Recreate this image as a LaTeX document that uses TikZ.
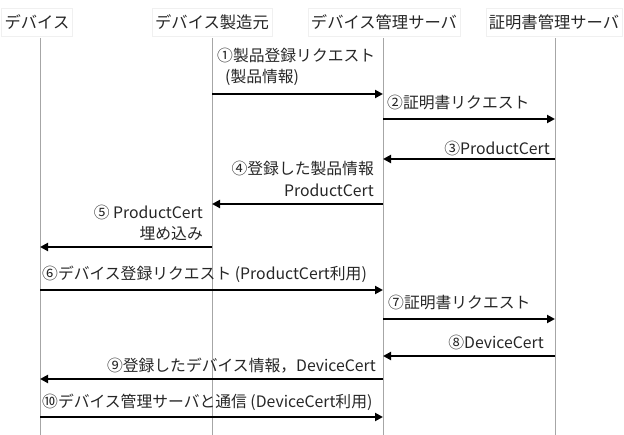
\documentclass[tikz,border=0pt]{standalone}
\usepackage{fontspec}
\setmainfont{Noto Sans CJK JP}
\usetikzlibrary{arrows.meta}
\definecolor{txt}{HTML}{262626}
\definecolor{life}{HTML}{A6A6A6}
\tikzset{
  hdr/.style={draw=black!6, inner sep=3pt, minimum height=28pt, text=txt, font=\fontsize{16.3}{18}\selectfont},
  lifeline/.style={draw=life, line width=0.9pt},
  msg/.style={draw=black, line width=2pt, -{Triangle[length=8pt,width=8pt]}},
  lblL/.style={anchor=west, inner sep=0pt, text=txt, align=left, font=\fontsize{15.8}{21.5}\selectfont},
  lblR/.style={anchor=east, inner sep=0pt, text=txt, align=right, font=\fontsize{15.8}{21.5}\selectfont},
}
\begin{document}
\begin{tikzpicture}[x=1pt,y=-1pt]
\useasboundingbox (0,0) rectangle (624,435);
% headers
\node[hdr] (dev) at (37,22) {デバイス};
\node[hdr] (mfr) at (212,22) {デバイス製造元};
\node[hdr] (srv) at (384,22) {デバイス管理サーバ};
\node[hdr] (crt) at (554,22) {証明書管理サーバ};
% lifeline ends
\coordinate (devT) at (40,38);  \coordinate (devB) at (40,435);
\coordinate (mfrT) at (212,38); \coordinate (mfrB) at (212,435);
\coordinate (srvT) at (383,38); \coordinate (srvB) at (383,435);
\coordinate (crtT) at (555,38); \coordinate (crtB) at (555,435);
\draw[lifeline] (devT) -- (devB);
\draw[lifeline] (mfrT) -- (mfrB);
\draw[lifeline] (srvT) -- (srvB);
\draw[lifeline] (crtT) -- (crtB);
% message endpoints
\coordinate (a1) at (212,94);  \coordinate (b1) at (383,94);
\coordinate (a2) at (383,119); \coordinate (b2) at (555,119);
\coordinate (a3) at (555,159); \coordinate (b3) at (383,159);
\coordinate (a4) at (383,204); \coordinate (b4) at (212,204);
\coordinate (a5) at (212,247); \coordinate (b5) at (40,247);
\coordinate (a6) at (40,290);  \coordinate (b6) at (383,290);
\coordinate (a7) at (383,319); \coordinate (b7) at (555,319);
\coordinate (a8) at (555,356); \coordinate (b8) at (383,356);
\coordinate (a9) at (383,379); \coordinate (b9) at (40,379);
\coordinate (a10) at (40,417); \coordinate (b10) at (383,417);
\foreach \i in {1,...,10} \draw[msg] (a\i) -- (b\i);
% labels
\node[lblL] (l1) at (217,67) {①製品登録リクエスト\\\hspace{8pt}(製品情報)};
\node[lblL] (l2) at (387,103) {②証明書リクエスト};
\node[lblR] (l3) at (550,148) {③ProductCert};
\node[lblR] (l4) at (374,179) {④登録した製品情報\\ProductCert};
\node[lblR] (l5) at (203,223) {⑤ ProductCert\\埋め込み};
\node[lblL] (l6) at (42,274) {⑥デバイス登録リクエスト (ProductCert利用)};
\node[lblL] (l7) at (388,303) {⑦証明書リクエスト};
\node[lblR] (l8) at (544,342) {⑧DeviceCert};
\node[lblR] (l9) at (376,366) {⑨登録したデバイス情報，DeviceCert};
\node[lblL] (l10) at (42,402) {⑩デバイス管理サーバと通信 (DeviceCert利用)};
\end{tikzpicture}
\end{document}
